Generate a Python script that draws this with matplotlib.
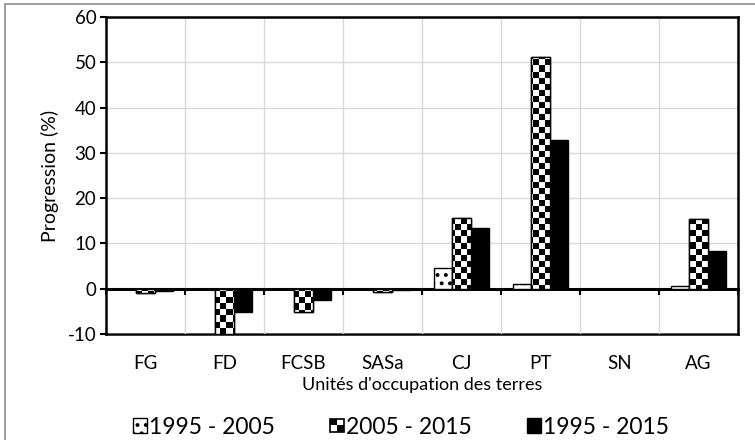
import numpy as np
import matplotlib
matplotlib.use("Agg")
import matplotlib.pyplot as plt
from matplotlib.patches import Rectangle
from matplotlib.legend_handler import HandlerBase

# --- données --------------------------------------------------------------
categories = ["FG", "FD", "FCSB", "SASa", "CJ", "PT", "SN", "AG"]
p_1995_2005 = [0.0, 0.0, 0.0, 0.0, 4.6, 1.1, 0.0, 0.5]
p_2005_2015 = [-1.0, -10.0, -5.1, -0.7, 15.6, 51.1, 0.0, 15.3]
p_1995_2015 = [-0.5, -5.1, -2.6, -0.3, 13.4, 32.9, 0.0, 8.4]
series_labels = ["1995 - 2005", "2005 - 2015", "1995 - 2015"]
yticks = [-10, 0, 10, 20, 30, 40, 50, 60]

YMIN, YMAX = -10, 60
FONT = "Lato"
plt.rcParams["font.family"] = [FONT, "DejaVu Sans"]
plt.rcParams["axes.unicode_minus"] = False
plt.rcParams["hatch.linewidth"] = 1.6


class CheckerHandler(HandlerBase):
    """Petit carré en damier pour la légende."""

    def create_artists(self, legend, orig_handle, xdescent, ydescent,
                       width, height, fontsize, trans):
        s = min(width, height)
        x0, y0 = -xdescent, -ydescent + (height - s) / 2
        h = s / 2
        return [Rectangle((x0, y0), s, s, fc="white", ec="none", transform=trans),
                Rectangle((x0, y0 + h), h, h, fc="black", ec="none", transform=trans),
                Rectangle((x0 + h, y0), h, h, fc="black", ec="none", transform=trans),
                Rectangle((x0, y0), s, s, fc="none", ec="black", lw=1.2, transform=trans)]


fig = plt.figure(figsize=(7.55, 4.4), dpi=100)
ax = fig.add_axes([106 / 755, 1 - 334 / 440, 632 / 755, 317 / 440])

x = np.arange(len(categories))
bounds = np.arange(len(categories) + 1) - 0.5
w = 0.236
b1 = ax.bar(x - w, p_1995_2005, w, facecolor="white", edgecolor="black", lw=1.0,
            hatch="..", zorder=3, label=series_labels[0])
b2 = ax.bar(x, p_2005_2015, w, facecolor="white", edgecolor="black", lw=1.0,
            zorder=3, label=series_labels[1])
b3 = ax.bar(x + w, p_1995_2015, w, facecolor="black", edgecolor="black", lw=1.0,
            zorder=3, label=series_labels[2])

# damier (cases de ~6 px) découpé dans chaque barre 2005 - 2015
xmin, xmax = -0.5, len(categories) - 0.5
nx, ny = int(632 / 6), int(317 / 6)
jj, ii = np.indices((ny, nx))
board = (ii + jj) % 2
for bar in b2:
    if bar.get_height() == 0:
        continue
    im = ax.imshow(board, extent=(xmin, xmax, YMIN, YMAX), aspect="auto", cmap="gray",
                   interpolation="nearest", zorder=3.5, vmin=0, vmax=1)
    im.set_clip_path(bar)
ax.bar(x, p_2005_2015, w, fill=False, edgecolor="black", lw=1.0, zorder=3.6)

ax.set_xlim(xmin, xmax)
ax.set_ylim(YMIN, YMAX)
ax.set_yticks(yticks)

# axe horizontal à y = 0, graduations aux limites des catégories
ax.spines["bottom"].set_position(("data", 0))
ax.set_xticks(bounds)
ax.tick_params(axis="x", length=4, width=1.5, direction="out", labelbottom=False)
ax.tick_params(axis="y", length=4, width=1.5, direction="out", labelsize=13.5, pad=3)
ax.grid(True, axis="both", color="#d9d9d9", lw=1.0, zorder=0)
for sp in ax.spines.values():
    sp.set_linewidth(1.8)
ax.spines["bottom"].set_linewidth(2.2)
ax.set_axisbelow(True)

# libellés des catégories sous le cadre
cat_ax = ax.secondary_xaxis("bottom")
cat_ax.set_xticks(x)
cat_ax.set_xticklabels(categories)
cat_ax.tick_params(axis="x", length=0, pad=15, labelsize=13.5)
cat_ax.spines["bottom"].set_linewidth(1.8)
cat_ax.set_xlabel("Unités d'occupation des terres", fontsize=13, labelpad=4)

ax.set_ylabel("Progression (%)", fontsize=14, labelpad=6)

handles = [b1, b2, b3]
leg = fig.legend(handles, series_labels, loc="center", bbox_to_anchor=(401 / 755, 1 - 427 / 440),
                 ncol=3, frameon=False, fontsize=16.5, handlelength=0.6, handleheight=0.6,
                 handletextpad=0.1, columnspacing=2.4, borderaxespad=0, borderpad=0,
                 handler_map={b2: CheckerHandler()})

# cadre gris de l'image
fig.add_artist(Rectangle((5 / 755, -0.1), 1.2, 1.1 - 4.5 / 440, transform=fig.transFigure,
                         fill=False, ec="#8c8c8c", lw=1.2))

fig.savefig("out.png", dpi=100)
